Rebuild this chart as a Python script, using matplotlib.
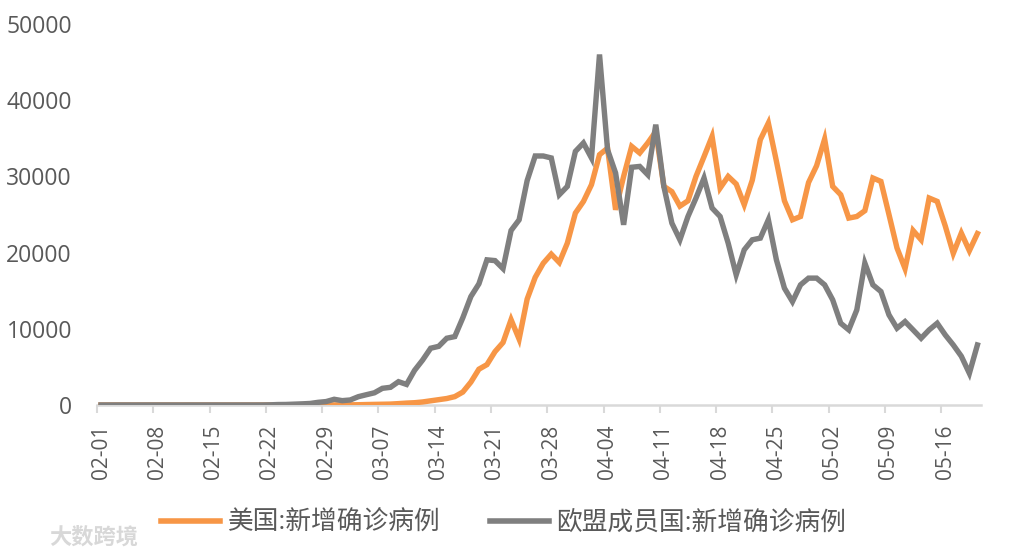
import matplotlib
matplotlib.use("Agg")
import matplotlib.pyplot as plt
from matplotlib.ticker import FixedLocator, NullFormatter, FixedFormatter

plt.rcParams['font.family'] = ['Open Sans', 'Noto Sans CJK SC', 'DejaVu Sans']

# daily values 02-01 .. 05-20 (110 days)
us_new = [
    0, 0, 1, 0, 0, 0, 0, 0, 1, 0, 0, 1, 0, 0, 0, 0, 0, 0, 0, 0,
    0, 1, 0, 0, 0, 2, 0, 1, 8, 10, 20, 25, 35, 60, 80, 100, 120, 180, 250, 300,
    400, 550, 700, 850, 1100, 1700, 3000, 4700, 5300, 7000, 8200, 11200, 8650, 13900, 16750, 18600, 19800, 18700, 21250, 25190,
    26710, 28910, 32850, 33700, 25620, 30000, 33940, 33070, 34390, 35900, 28700, 28000, 26100, 26800, 30000, 32600, 35250, 28470, 30000, 29000,
    26280, 29500, 34820, 37000, 32000, 26800, 24310, 24740, 29200, 31400, 34900, 28690, 27600, 24530, 24740, 25500, 29790, 29340, 25000, 20600,
    17900, 22900, 21680, 27160, 26720, 23500, 19900, 22560, 20250, 22500,
]
eu_new = [
    3, 2, 4, 5, 3, 4, 6, 5, 4, 3, 2, 4, 3, 5, 4, 3, 2, 3, 4, 3,
    5, 20, 60, 70, 110, 150, 200, 350, 450, 750, 570, 660, 1090, 1350, 1600, 2190, 2320, 3060, 2700, 4550,
    5900, 7450, 7700, 8760, 8980, 11450, 14230, 15900, 19050, 18950, 17900, 22900, 24300, 29450, 32680, 32680, 32420, 27600, 28690, 33280,
    34390, 32420, 46000, 33500, 30450, 23650, 31200, 31310, 30220, 36790, 28690, 23870, 21680, 24740, 27160, 29790, 25850, 24740, 21250, 17080,
    20370, 21680, 21900, 24310, 19050, 15330, 13570, 15770, 16650, 16650, 15770, 13800, 10730, 9860, 12480, 18620, 15770, 14890, 11830, 10080,
    10950, 9860, 8760, 9860, 10730, 9200, 7880, 6400, 4160, 7880,
]
tick_labels = ['02-01', '02-08', '02-15', '02-22', '02-29', '03-07', '03-14', '03-21',
               '03-28', '04-04', '04-11', '04-18', '04-25', '05-02', '05-09', '05-16']
y_ticks = [0, 10000, 20000, 30000, 40000, 50000]
series_names = ['美国:新增确诊病例', '欧盟成员国:新增确诊病例']
colors = ['#F79646', '#7F7F7F']

fig = plt.figure(figsize=(10.22, 5.52), dpi=100)
ax = fig.add_axes([0.0949, 0.2663, 0.9603 - 0.0949, 0.9565 - 0.2663])

x = list(range(len(us_new)))
ax.plot(x, us_new, color=colors[0], lw=3.9, solid_joinstyle='miter', label=series_names[0], zorder=3)
ax.plot(x, eu_new, color=colors[1], lw=3.9, solid_joinstyle='miter', label=series_names[1], zorder=4)

n = len(us_new)
ax.set_xlim(-0.5, n - 0.5)
ax.set_ylim(0, 50000)

tick_idx = [7 * k for k in range(len(tick_labels))]
ax.xaxis.set_major_locator(FixedLocator([i - 0.5 for i in tick_idx]))
ax.xaxis.set_major_formatter(NullFormatter())
ax.xaxis.set_minor_locator(FixedLocator(tick_idx))
ax.xaxis.set_minor_formatter(FixedFormatter(tick_labels))
ax.tick_params(axis='x', which='major', length=6, width=1.5, color='#D9D9D9', direction='out')
ax.tick_params(axis='x', which='minor', length=0, pad=14, labelsize=15, labelcolor='#595959', labelrotation=90)

ax.set_yticks(y_ticks)
ax.set_yticklabels([str(v) for v in y_ticks])
ax.tick_params(axis='y', length=0, pad=18, labelsize=16.5, labelcolor='#595959')

for s in ['top', 'right', 'left']:
    ax.spines[s].set_visible(False)
ax.spines['bottom'].set_color('#D9D9D9')
ax.spines['bottom'].set_linewidth(1.8)
ax.spines['bottom'].set_zorder(1)

leg = fig.legend(loc='center', bbox_to_anchor=(0.493, 0.0525), ncol=2, frameon=False,
                 fontsize=18.5, handlelength=2.3, handletextpad=0.3, columnspacing=1.9,
                 labelcolor='#595959')
for line in leg.get_lines():
    line.set_linewidth(4)

fig.text(0.048, 0.027, '大数跨境', fontsize=16, color='#D8D8D8', family=['Noto Sans CJK SC'],
         ha='left', va='center', fontweight='bold')

fig.savefig('out.png', dpi=100)
